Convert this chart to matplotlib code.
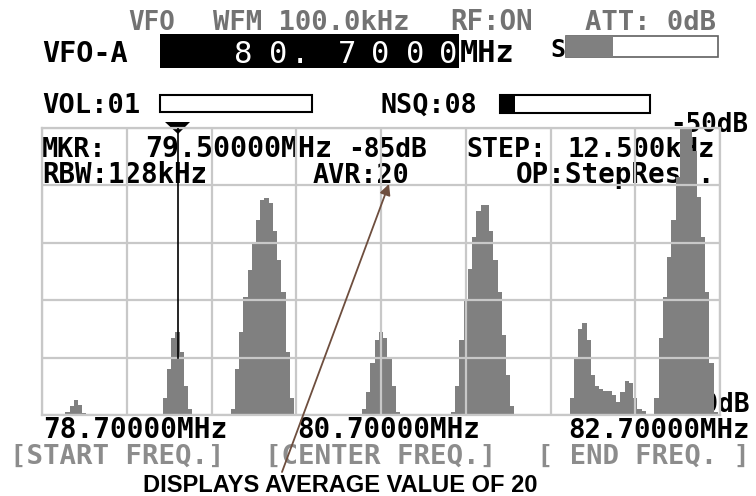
import numpy as np
import matplotlib
matplotlib.use("Agg")
import matplotlib.pyplot as plt
from matplotlib.patches import Rectangle, Polygon

# sweep settings
start_mhz, stop_mhz = 78.7, 82.7
bin_mhz = 0.025
ref_db, floor_db = -50, -100
marker_mhz, marker_db = 79.5, -85
n_bins = 161

# spectrum peaks: (first bin index, levels in dB per 25 kHz bin)
peak_a = (6, [-99.5, -98.5, -97.4, -98.3, -99.6])
peak_b = (29, [-97, -92, -86.5, -85.5, -89, -95, -99])
peak_c = (45, [-99, -92, -85.5, -79.5, -74.7, -70, -66, -62.5, -62.2, -63,
               -68, -73, -78.5, -89, -97])
peak_d = (76, [-99, -96, -91, -87, -85.5, -86.5, -90, -95, -99.5])
peak_e = (97, [-99.5, -95, -87, -80, -74.5, -69, -64.5, -63.4, -63.5, -68,
               -73, -78.5, -86, -93, -98.5])
peak_f = (124, [-100, -97, -90, -85, -84, -87, -93, -95, -95.5, -95.8, -95.8,
                -96.5, -97.8, -96, -94, -94.5, -97, -99, -99.3])
peak_g = (145, [-97, -86.5, -79.5, -72.5, -66, -58.5, -50, -50, -50, -54,
                -62, -69, -78.5, -91, -99.5])
peaks = [peak_a, peak_b, peak_c, peak_d, peak_e, peak_f, peak_g]

# bar meters (fraction filled)
s_meter = 0.31
nsq_level = 0.10
vol_level = 0.0

W, H = 756, 496
LCD = "DejaVu Sans Mono"
GRID = "#c8c8c8"
GREY_TXT = "#737373"
LIGHT_TXT = "#8c8c8c"
SPEC = "#808080"

fig = plt.figure(figsize=(W / 100, H / 100), dpi=100)
renderer = fig.canvas.get_renderer()


def overlay(z):
    a = fig.add_axes([0, 0, 1, 1], zorder=z)
    a.set_xlim(0, W)
    a.set_ylim(H, 0)
    a.axis("off")
    a.patch.set_alpha(0)
    return a


back = overlay(0)
front = overlay(2)


def lcd(ax, s, x0, x1, y, color="black", family=LCD, weight="bold"):
    # place text on its baseline and size it to span x0..x1
    t = ax.text(x0, y, s, fontsize=10, family=family, weight=weight,
                color=color, ha="left", va="baseline")
    w = t.get_window_extent(renderer).width
    t.set_fontsize(10 * (x1 - x0) / w)
    return t


# top status lines
lcd(back, "VFO", 128, 175, 30, GREY_TXT)
lcd(back, "WFM 100.0kHz", 213, 410, 30, GREY_TXT)
lcd(back, "RF:ON", 450, 533, 30, GREY_TXT)
lcd(back, "ATT: 0dB", 585, 716, 30, GREY_TXT)

lcd(back, "VFO-A", 42, 128, 62)
back.add_patch(Rectangle((160, 34), 299, 34, fc="black", ec="none"))
big_chars = ["8", "0", ".", "7", "0", "0", "0"]
big_x = [243, 278, 300, 347, 380, 415, 448]
for ch, cx in zip(big_chars, big_x):
    back.text(cx, 63, ch, fontsize=22, family=LCD, color="white",
              ha="center", va="baseline")
lcd(back, "MHz", 460, 515, 62)

lcd(back, "S", 550, 565, 57)
back.add_patch(Rectangle((566, 36), 152, 21, fc="white", ec="#606060", lw=1.2))
back.add_patch(Rectangle((566, 36), 152 * s_meter, 21, fc=SPEC, ec="none"))

lcd(back, "VOL:01", 42, 140, 113)
back.add_patch(Rectangle((160, 95), 152, 17, fc="white", ec="black", lw=1.5))
back.add_patch(Rectangle((160, 95), 152 * vol_level, 17, fc="black", ec="none"))
lcd(back, "NSQ:08", 381, 478, 113)
back.add_patch(Rectangle((500, 95), 150, 18, fc="white", ec="black", lw=1.5))
back.add_patch(Rectangle((500, 95), 150 * nsq_level, 18, fc="black", ec="none"))

lcd(back, "-50dB", 670, 748, 132)
lcd(back, "-100dB", 655, 750, 412)

# readouts inside the grid
lcd(back, "MKR:", 42, 107, 157)
lcd(back, "79.50000MHz", 145, 332, 157)
lcd(back, "-85dB", 348, 427, 157)
lcd(back, "STEP:", 466, 546, 157)
lcd(back, "12.500kHz", 568, 716, 157)
lcd(back, "RBW:128kHz", 42, 208, 183)
lcd(back, "AVR:20", 313, 410, 183)
lcd(back, "OP:StepResp.", 516, 716, 183)

# frequency labels
lcd(back, "78.70000MHz", 43, 227, 438)
lcd(back, "80.70000MHz", 297, 480, 438)
lcd(back, "82.70000MHz", 568, 750, 438)
lcd(back, "[START FREQ.]", 10, 225, 464, LIGHT_TXT)
lcd(back, "[CENTER FREQ.]", 265, 497, 464, LIGHT_TXT)
lcd(back, "[ END FREQ. ]", 537, 750, 464, LIGHT_TXT)

# marker triangle above the grid
back.add_patch(Polygon([(165, 122), (190, 122), (178, 134)], closed=True,
                       fc="black", ec="none"))

# spectrum window
spec = fig.add_axes([42 / W, 1 - 415 / H, (720 - 42) / W, (415 - 128) / H],
                    zorder=1)
spec.patch.set_alpha(0)
levels = np.full(n_bins, float(floor_db))
for first, vals in peaks:
    levels[first:first + len(vals)] = vals
edges = start_mhz + (np.arange(n_bins + 1) - 0.5) * bin_mhz
spec.stairs(levels, edges, baseline=floor_db, fill=True, color=SPEC, zorder=1)
spec.plot([marker_mhz, marker_mhz], [ref_db, -90], color="black", lw=1.2,
          zorder=4)
spec.set_xlim(start_mhz, stop_mhz)
spec.set_ylim(floor_db, ref_db)
spec.set_xticks(np.arange(start_mhz, stop_mhz + 0.01, 0.5))
spec.set_yticks(np.arange(floor_db, ref_db + 1, 10))
spec.tick_params(length=0, labelbottom=False, labelleft=False)
spec.set_axisbelow(False)
spec.grid(True, color=GRID, lw=1.6)
for sp in spec.spines.values():
    sp.set_color(GRID)
    sp.set_linewidth(1.6)

# callout
front.annotate("", xy=(389, 184), xytext=(282, 472),
               arrowprops=dict(arrowstyle="-|>", color="#6e4e3e", lw=1.3,
                               mutation_scale=16, shrinkA=0, shrinkB=0))
lcd(front, "DISPLAYS AVERAGE VALUE OF 20", 143, 537, 492,
    family="Liberation Sans", weight="bold")

fig.savefig("out.png", dpi=100, facecolor="white")
